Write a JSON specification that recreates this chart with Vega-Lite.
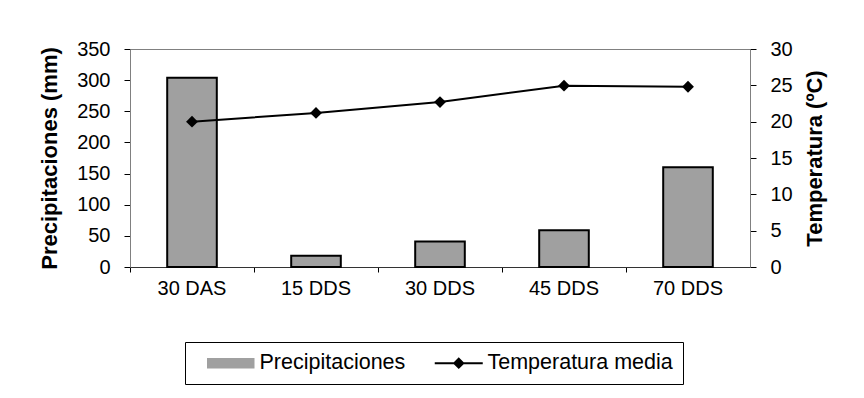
{
  "$schema": "https://vega.github.io/schema/vega-lite/v6.json",
  "width": 620,
  "height": 218,
  "autosize": {"type": "none"},
  "padding": {"left": 130, "top": 49, "right": 114, "bottom": 131},
  "background": "white",
  "config": {
    "font": "Liberation Sans",
    "view": {"stroke": "#808080", "strokeWidth": 1},
    "axis": {
      "grid": false,
      "labelFont": "Liberation Sans",
      "titleFont": "Liberation Sans",
      "labelColor": "black",
      "titleColor": "black",
      "tickColor": "black",
      "domainColor": "#808080",
      "labelFontSize": 20,
      "titleFontSize": 22,
      "titleFontWeight": "bold"
    },
    "legend": {
      "orient": "none",
      "legendX": 55,
      "legendY": 293,
      "direction": "horizontal",
      "strokeColor": "black",
      "fillColor": "white",
      "padding": 10,
      "labelFont": "Liberation Sans",
      "labelFontSize": 21.5,
      "labelColor": "black",
      "labelLimit": 400,
      "symbolSize": 400,
      "symbolStrokeWidth": 1.5,
      "labelOffset": 43,
      "columnPadding": 17
    }
  },
  "data": {
    "values": [
      {"periodo": "30 DAS", "precipitaciones": 304, "temperatura": 20.0},
      {"periodo": "15 DDS", "precipitaciones": 18, "temperatura": 21.2},
      {"periodo": "30 DDS", "precipitaciones": 41, "temperatura": 22.7},
      {"periodo": "45 DDS", "precipitaciones": 59, "temperatura": 24.95},
      {"periodo": "70 DDS", "precipitaciones": 160, "temperatura": 24.8}
    ]
  },
  "encoding": {
    "x": {
      "field": "periodo",
      "type": "nominal",
      "sort": null,
      "scale": {"paddingInner": 0, "paddingOuter": 0},
      "axis": {
        "title": null,
        "labelAngle": 0,
        "bandPosition": 0,
        "tickSize": 5,
        "labelPadding": 6,
        "domainColor": "#333333"
      }
    }
  },
  "layer": [
    {
      "mark": {"type": "bar", "width": {"band": 0.4}, "stroke": "black", "strokeWidth": 2},
      "encoding": {
        "y": {
          "field": "precipitaciones",
          "type": "quantitative",
          "scale": {"domain": [0, 350], "nice": false},
          "axis": {
            "title": "Precipitaciones (mm)",
            "values": [0, 50, 100, 150, 200, 250, 300, 350],
            "tickSize": 6,
            "labelPadding": 14,
            "titlePadding": 15
          }
        },
        "color": {
          "datum": "Precipitaciones",
          "type": "nominal",
          "scale": {"domain": ["Precipitaciones", "Temperatura media"], "range": ["#a0a0a0", "black"]},
          "legend": {
            "title": null,
            "encode": {
              "symbols": {
                "update": {
                  "shape": {"signal": "datum.value === 'Precipitaciones' ? 'M0.2,-0.45H4.8V0.45H0.2Z' : 'M0.1,0H4.9M2.5,-0.45L2.95,0L2.5,0.45L2.05,0Z'"},
                  "fill": {"signal": "datum.value === 'Precipitaciones' ? '#a0a0a0' : 'black'"},
                  "stroke": {"value": "black"},
                  "strokeWidth": {"signal": "datum.value === 'Precipitaciones' ? 1.5 : 2"},
                  "opacity": {"value": 1},
                  "fillOpacity": {"value": 1},
                  "strokeOpacity": {"value": 1}
                }
              }
            }
          }
        }
      }
    },
    {
      "mark": {
        "type": "line",
        "strokeWidth": 2,
        "point": {"shape": "diamond", "size": 140, "filled": true}
      },
      "encoding": {
        "y": {
          "field": "temperatura",
          "type": "quantitative",
          "scale": {"domain": [0, 30], "nice": false},
          "axis": {
            "orient": "right",
            "title": "Temperatura (ºC)",
            "titleAngle": 270,
            "values": [0, 5, 10, 15, 20, 25, 30],
            "tickSize": 6,
            "labelPadding": 14,
            "titlePadding": 34
          }
        },
        "color": {
          "datum": "Temperatura media",
          "type": "nominal",
          "legend": {
            "title": null,
            "encode": {
              "symbols": {
                "update": {
                  "shape": {"signal": "datum.value === 'Precipitaciones' ? 'M0.2,-0.45H4.8V0.45H0.2Z' : 'M0.1,0H4.9M2.5,-0.45L2.95,0L2.5,0.45L2.05,0Z'"},
                  "fill": {"signal": "datum.value === 'Precipitaciones' ? '#a0a0a0' : 'black'"},
                  "stroke": {"value": "black"},
                  "strokeWidth": {"signal": "datum.value === 'Precipitaciones' ? 1.5 : 2"},
                  "opacity": {"value": 1},
                  "fillOpacity": {"value": 1},
                  "strokeOpacity": {"value": 1}
                }
              }
            }
          }
        }
      }
    }
  ],
  "resolve": {"scale": {"y": "independent"}}
}
